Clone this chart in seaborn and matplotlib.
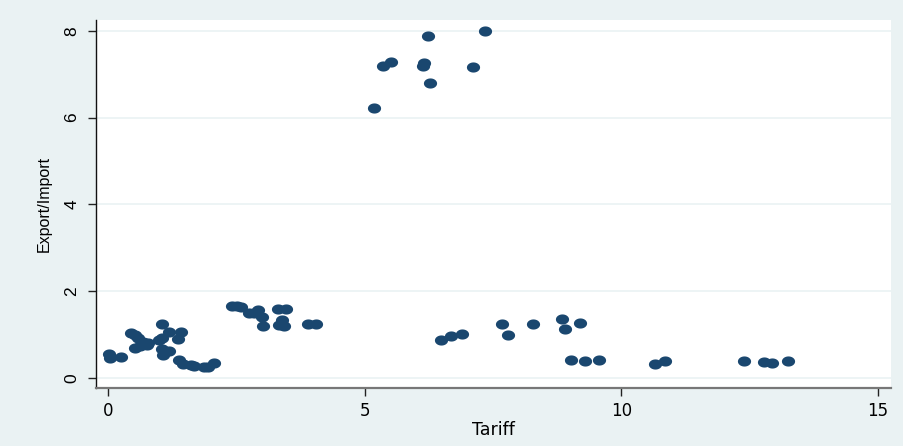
import numpy as np
import pandas as pd
import matplotlib
matplotlib.use("Agg")
import matplotlib.pyplot as plt
from matplotlib.path import Path
import seaborn as sns

# Tariff rate and export/import ratio per observation
tariff = [
    0.02, 0.04, 0.25,
    0.45, 0.52, 0.58, 0.68, 0.78, 0.53, 0.62, 0.76,
    1.05, 1.00, 1.05, 1.20, 1.42, 1.37, 1.05, 1.20, 1.07,
    1.38, 1.46, 1.62, 1.68, 1.87, 1.96, 2.06,
    2.42, 2.52, 2.60, 2.74, 2.85, 2.92, 3.00, 3.02,
    3.31, 3.46, 3.33, 3.39, 3.43, 3.89, 4.05,
    5.18, 5.35, 5.51, 6.13, 6.16, 6.23, 6.27, 7.12, 7.35,
    6.48, 6.69, 6.89, 7.67, 7.80, 8.27, 8.85, 8.91, 9.20,
    9.01, 9.30, 9.57, 10.66, 10.84, 12.39, 12.78, 12.94, 13.25,
]
export_import = [
    0.55, 0.47, 0.48,
    1.04, 1.00, 0.92, 0.83, 0.80, 0.70, 0.73, 0.76,
    1.25, 0.88, 0.93, 1.07, 1.05, 0.90, 0.66, 0.63, 0.53,
    0.42, 0.33, 0.30, 0.27, 0.25, 0.25, 0.35,
    1.66, 1.66, 1.63, 1.49, 1.50, 1.57, 1.40, 1.20,
    1.59, 1.59, 1.23, 1.33, 1.21, 1.25, 1.25,
    6.22, 7.19, 7.28, 7.18, 7.25, 7.88, 6.80, 7.17, 8.00,
    0.88, 0.96, 1.01, 1.24, 0.99, 1.24, 1.36, 1.13, 1.27,
    0.41, 0.40, 0.41, 0.32, 0.40, 0.39, 0.37, 0.35, 0.39,
]

x_ticks = [0, 5, 10, 15]
y_ticks = [0, 2, 4, 6, 8]

df = pd.DataFrame({"Tariff": tariff, "Export/Import": export_import})

bg = "#EAF2F3"
navy = "#1A476F"

sns.set_theme(style="white")
plt.rcParams["font.family"] = ["DejaVu Sans"]

fig = plt.figure(figsize=(9.04, 4.46), dpi=100, facecolor=bg)
ax = fig.add_axes([96 / 904, 1 - 388 / 446, (891 - 96) / 904, (388 - 20) / 446])
ax.set_facecolor("white")

# slightly wide ellipse marker
t = np.linspace(0, 2 * np.pi, 60)
ellipse = Path(np.column_stack([1.3 * np.cos(t), np.sin(t)]), closed=True)

sns.scatterplot(data=df, x="Tariff", y="Export/Import", ax=ax,
                marker=ellipse, s=90, color=navy, edgecolor=navy,
                linewidth=0, zorder=3)

ax.set_xlim(-0.23, 15.25)
ax.set_ylim(-0.23, 8.25)
ax.set_xticks(x_ticks)
ax.set_yticks(y_ticks)
ax.set_xticklabels([str(v) for v in x_ticks], fontsize=12, family="DejaVu Sans")
ax.set_yticklabels([str(v) for v in y_ticks], fontsize=12.5,
                   family="Liberation Sans", rotation=90, va="center")

ax.grid(axis="y", color=bg, linewidth=1.2, zorder=0)
ax.grid(axis="x", visible=False)

for side in ("top", "right"):
    ax.spines[side].set_visible(False)
ax.spines["left"].set_color("#111111")
ax.spines["left"].set_linewidth(1.0)
ax.spines["bottom"].set_color("#777777")
ax.spines["bottom"].set_linewidth(1.6)

ax.tick_params(axis="both", which="major", direction="out", length=6,
               width=1.0, colors="#222222", labelcolor="black", pad=4,
               left=True, bottom=True)
ax.tick_params(axis="y", pad=6)

ax.set_xlabel("Tariff", fontsize=12.5, color="black", labelpad=1,
              family="DejaVu Sans")
ax.set_ylabel("Export/Import", fontsize=11.5, color="black", labelpad=9,
              family="Liberation Sans")

fig.savefig("out.png", dpi=100, facecolor=bg)
